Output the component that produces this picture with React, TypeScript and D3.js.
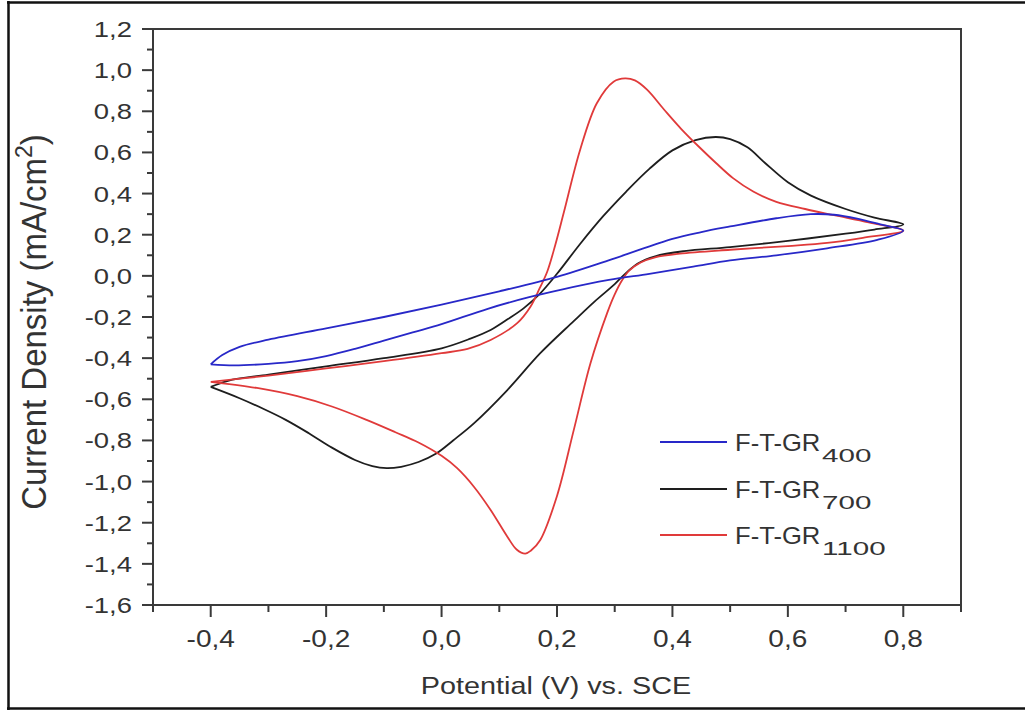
import React from 'react';
import * as d3 from 'd3';

// ---------- data ----------
const xMajorTicks = [-0.4, -0.2, 0.0, 0.2, 0.4, 0.6, 0.8];
const xMinorTicks = [-0.5, -0.3, -0.1, 0.1, 0.3, 0.5, 0.7, 0.9];
const yMajorTicks = [1.2, 1.0, 0.8, 0.6, 0.4, 0.2, 0.0, -0.2, -0.4, -0.6, -0.8, -1.0, -1.2, -1.4, -1.6];
const yMinorTicks = [1.1, 0.9, 0.7, 0.5, 0.3, 0.1, -0.1, -0.3, -0.5, -0.7, -0.9, -1.1, -1.3, -1.5];

const seriesLabels = ['F-T-GR', 'F-T-GR', 'F-T-GR'];
const seriesSubs = ['400', '700', '1100'];
const seriesColors = ['#2828c8', '#1e1e1e', '#e03a3a'];

// F-T-GR400 : [potential V, current density mA/cm2], forward sweep then reverse
const gr400: [number, number][] = [
  [-0.40, -0.43], [-0.38, -0.385], [-0.35, -0.345], [-0.30, -0.31], [-0.20, -0.255],
  [-0.10, -0.20], [0.00, -0.14], [0.10, -0.075], [0.20, -0.005], [0.30, 0.085],
  [0.40, 0.18], [0.45, 0.213], [0.50, 0.24], [0.58, 0.28], [0.64, 0.30],
  [0.68, 0.297], [0.72, 0.278], [0.76, 0.25], [0.80, 0.22],
  [0.755, 0.175], [0.668, 0.134], [0.58, 0.10], [0.50, 0.075], [0.436, 0.045],
  [0.36, 0.01], [0.29, -0.02], [0.206, -0.068], [0.15, -0.105], [0.08, -0.16],
  [0.00, -0.235], [-0.05, -0.275], [-0.10, -0.315], [-0.15, -0.355], [-0.20, -0.39],
  [-0.25, -0.415], [-0.30, -0.428], [-0.36, -0.435], [-0.40, -0.43],
];

// F-T-GR700
const gr700: [number, number][] = [
  [-0.40, -0.54], [-0.37, -0.51], [-0.30, -0.48], [-0.20, -0.44], [-0.10, -0.40],
  [0.00, -0.352], [0.05, -0.305], [0.085, -0.263], [0.115, -0.21], [0.142, -0.158],
  [0.171, -0.085], [0.20, 0.01], [0.24, 0.155], [0.28, 0.29], [0.32, 0.41],
  [0.36, 0.52], [0.40, 0.61], [0.44, 0.66], [0.475, 0.675], [0.50, 0.665],
  [0.53, 0.625], [0.56, 0.55], [0.60, 0.455], [0.64, 0.39], [0.70, 0.325], [0.75, 0.283],
  [0.80, 0.25],
  [0.75, 0.225], [0.70, 0.205], [0.60, 0.17], [0.50, 0.14], [0.42, 0.12],
  [0.37, 0.095], [0.34, 0.06], [0.318, 0.01], [0.30, -0.04], [0.265, -0.125],
  [0.229, -0.22], [0.171, -0.376], [0.114, -0.555], [0.056, -0.717], [0.02, -0.80],
  [-0.01, -0.865], [-0.04, -0.905], [-0.07, -0.928], [-0.095, -0.935], [-0.12, -0.925],
  [-0.15, -0.895], [-0.19, -0.835], [-0.23, -0.765], [-0.27, -0.70], [-0.31, -0.645],
  [-0.35, -0.595], [-0.40, -0.54],
];

// F-T-GR1100
const gr1100: [number, number][] = [
  [-0.40, -0.515], [-0.30, -0.485], [-0.20, -0.45], [-0.10, -0.415], [0.00, -0.376],
  [0.045, -0.355], [0.085, -0.312], [0.131, -0.23], [0.154, -0.15], [0.17, -0.06],
  [0.183, 0.02], [0.197, 0.15], [0.212, 0.31], [0.24, 0.612], [0.269, 0.839],
  [0.298, 0.944], [0.318, 0.96], [0.335, 0.95], [0.356, 0.905], [0.385, 0.81],
  [0.415, 0.715], [0.445, 0.63], [0.475, 0.55], [0.505, 0.475], [0.54, 0.41],
  [0.58, 0.36], [0.63, 0.325], [0.68, 0.295], [0.74, 0.26], [0.80, 0.22],
  [0.73, 0.185], [0.668, 0.16], [0.60, 0.145], [0.50, 0.127], [0.413, 0.108],
  [0.37, 0.09], [0.345, 0.065], [0.325, 0.025], [0.313, -0.02], [0.30, -0.09],
  [0.287, -0.18], [0.258, -0.425], [0.229, -0.75], [0.20, -1.07], [0.171, -1.284],
  [0.155, -1.335], [0.145, -1.35], [0.13, -1.33], [0.114, -1.268], [0.085, -1.138],
  [0.056, -1.025], [0.027, -0.935], [0.00, -0.875], [-0.04, -0.81], [-0.08, -0.76],
  [-0.13, -0.70], [-0.19, -0.635], [-0.25, -0.585], [-0.32, -0.545], [-0.40, -0.515],
];

const seriesData = [gr400, gr700, gr1100];

// ---------- layout ----------
const W = 1025;
const H = 713;
const plot = { left: 153, right: 961, top: 29, bottom: 605 };
const FONT = "'Liberation Sans', Arial, sans-serif";
const TXT = '#333';

const fmt = (v: number) => {
  const s = Math.abs(v).toFixed(1).replace('.', ',');
  return v < -1e-9 ? '-' + s : s;
};

function SText(props: {
  x: number; y: number; size: number; sx?: number; sy?: number; rotate?: number;
  anchor?: 'start' | 'middle' | 'end'; children: React.ReactNode; fill?: string;
}) {
  const { x, y, size, sx = 1, sy = 1, rotate = 0, anchor = 'start', children, fill = TXT } = props;
  return (
    <text
      transform={`translate(${x},${y}) rotate(${rotate}) scale(${sx},${sy})`}
      fontSize={size}
      fontFamily={FONT}
      textAnchor={anchor}
      fill={fill}
    >
      {children}
    </text>
  );
}

export default function App() {
  const x = d3.scaleLinear().domain([-0.5, 0.9]).range([plot.left, plot.right]);
  const y = d3.scaleLinear().domain([-1.6, 1.2]).range([plot.bottom, plot.top]);

  const line = d3
    .line<[number, number]>()
    .x((d) => x(d[0]))
    .y((d) => y(d[1]))
    .curve(d3.curveCatmullRom.alpha(0.5));

  const drawOrder = [1, 2, 0];
  const legendY = [442, 489, 535];

  return (
    <svg
      width={W}
      height={H}
      viewBox={`0 0 ${W} ${H}`}
      style={{ position: 'absolute', left: 0, top: 0, display: 'block', background: '#fff' }}
    >
      <rect x={0} y={0} width={W} height={H} fill="#fff" />
      {/* outer border of the figure */}
      <line x1={8.5} y1={1} x2={8.5} y2={710} stroke="#111" strokeWidth={2.5} />
      <line x1={7} y1={2.5} x2={W} y2={2.5} stroke="#111" strokeWidth={2.5} />
      <line x1={7} y1={708.5} x2={W} y2={708.5} stroke="#111" strokeWidth={2.5} />

      {/* curves */}
      <g fill="none" strokeWidth={1.8} strokeLinejoin="round">
        {drawOrder.map((i) => (
          <path key={i} d={line(seriesData[i]) || ''} stroke={seriesColors[i]} />
        ))}
      </g>

      {/* frame */}
      <rect
        x={plot.left}
        y={plot.top}
        width={plot.right - plot.left}
        height={plot.bottom - plot.top}
        fill="none"
        stroke="#3a3a3a"
        strokeWidth={2}
      />

      {/* ticks */}
      <g stroke="#3a3a3a" strokeWidth={2}>
        {xMajorTicks.map((v) => (
          <line key={'xM' + v} x1={x(v)} x2={x(v)} y1={plot.bottom} y2={plot.bottom + 12} />
        ))}
        {xMinorTicks.map((v) => (
          <line key={'xm' + v} x1={x(v)} x2={x(v)} y1={plot.bottom} y2={plot.bottom + 7} />
        ))}
        {yMajorTicks.map((v) => (
          <line key={'yM' + v} x1={plot.left - 11} x2={plot.left} y1={y(v)} y2={y(v)} />
        ))}
        {yMinorTicks.map((v) => (
          <line key={'ym' + v} x1={plot.left - 6} x2={plot.left} y1={y(v)} y2={y(v)} />
        ))}
      </g>

      {/* tick labels */}
      {xMajorTicks.map((v) => (
        <SText key={'xl' + v} x={x(v)} y={647} size={23} sx={1.22} anchor="middle">
          {fmt(v)}
        </SText>
      ))}
      {yMajorTicks.map((v) => (
        <SText key={'yl' + v} x={132} y={y(v) + 8} size={22.5} sx={1.22} anchor="end">
          {fmt(v)}
        </SText>
      ))}

      {/* axis titles */}
      <SText x={556} y={694} size={24} sx={1.2} anchor="middle">
        Potential (V) vs. SCE
      </SText>
      <text
        transform={`translate(46,322) rotate(-90) scale(1,1.08)`}
        fontSize={33}
        fontFamily={FONT}
        textAnchor="middle"
        fill={TXT}
      >
        Current Density (mA/cm
        <tspan fontSize={23} dy={-13}>2</tspan>
        <tspan dy={13}>)</tspan>
      </text>

      {/* legend */}
      {seriesLabels.map((lab, i) => (
        <g key={'lg' + i}>
          <line x1={660} x2={727} y1={legendY[i]} y2={legendY[i]} stroke={seriesColors[i]} strokeWidth={2} />
          <SText x={735} y={legendY[i] + 8.5} size={23.5} sx={1.09}>
            {lab}
          </SText>
          <SText x={822} y={legendY[i] + 20} size={18.5} sx={1.6}>
            {seriesSubs[i]}
          </SText>
        </g>
      ))}
    </svg>
  );
}
